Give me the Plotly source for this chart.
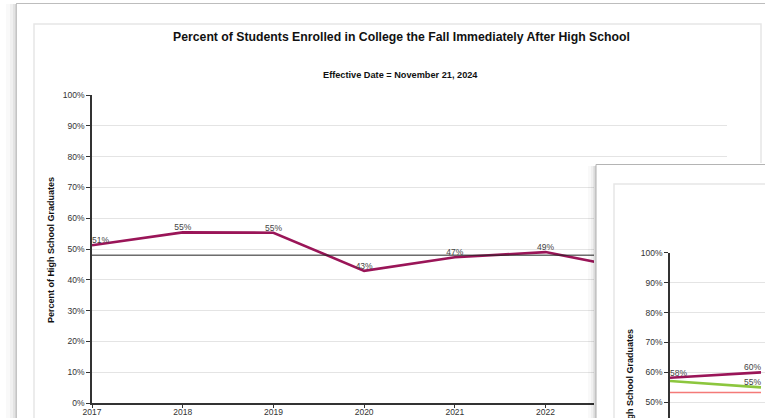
import plotly.graph_objects as go

W, H = 765, 418

# Main chart: college enrollment the fall after high school
years = [2017, 2018, 2019, 2020, 2021, 2022, 2023]
enrolled = [51.2, 55.4, 55.3, 42.9, 47.3, 49.0, 43.2]
benchmark_years = [2017, 2024]
benchmark = [48.0, 48.0]
y_ticks = list(range(0, 101, 10))
y_tick_text = [f"{v}%" for v in y_ticks]
x_ticks = list(range(2017, 2025))

# Second chart window (partly visible)
years_b = [2017, 2018]
series_maroon_b = [58.2, 60.0]
series_green_b = [57.1, 55.0]
reference_b = [53.3, 53.3]

MAROON = "#9a1558"
GREEN = "#8cc63e"
RED = "#f47a78"
FONT = "Liberation Sans, Arial, Helvetica, sans-serif"


def px(x):
    return x / W


def py(y):
    return 1 - y / H


def pct(v):
    return f"{round(v)}%"


fig = go.Figure()

# main series
fig.add_trace(go.Scatter(
    x=years, y=enrolled, mode="lines+text",
    line=dict(color=MAROON, width=2.6),
    text=[pct(v) for v in enrolled],
    textposition=["top right"] + ["top center"] * (len(years) - 1),
    textfont=dict(family=FONT, size=8.5, color="#444"),
    cliponaxis=False, showlegend=False, hoverinfo="skip",
    xaxis="x", yaxis="y",
))
fig.add_trace(go.Scatter(
    x=benchmark_years, y=benchmark, mode="lines",
    line=dict(color="#222", width=1),
    showlegend=False, hoverinfo="skip", xaxis="x", yaxis="y",
))

# empty subplot acting as the second window's white backdrop
fig.add_trace(go.Scatter(x=[600], y=[300], mode="markers", marker=dict(opacity=0),
                         showlegend=False, hoverinfo="skip", xaxis="x2", yaxis="y2"))

# second window series
fig.add_trace(go.Scatter(
    x=years_b, y=reference_b, mode="lines",
    line=dict(color=RED, width=1.5),
    showlegend=False, hoverinfo="skip", xaxis="x3", yaxis="y3", cliponaxis=False,
))
fig.add_trace(go.Scatter(
    x=years_b, y=series_green_b, mode="lines+text",
    line=dict(color=GREEN, width=2.6),
    text=["", pct(series_green_b[1])],
    textposition=["top right", "top left"],
    textfont=dict(family=FONT, size=8.5, color="#444"),
    showlegend=False, hoverinfo="skip", xaxis="x3", yaxis="y3", cliponaxis=False,
))
fig.add_trace(go.Scatter(
    x=years_b, y=series_maroon_b, mode="lines+text",
    line=dict(color=MAROON, width=2.6),
    text=[pct(v) for v in series_maroon_b],
    textposition=["top right", "top left"],
    textfont=dict(family=FONT, size=8.5, color="#444"),
    showlegend=False, hoverinfo="skip", xaxis="x3", yaxis="y3", cliponaxis=False,
))

axis_common = dict(
    showline=True, linecolor="#333", linewidth=1.5,
    ticks="outside", tickcolor="#333", tickwidth=1,
    tickfont=dict(family=FONT, size=8.5, color="#333"),
    zeroline=False, automargin=False,
)

fig.update_layout(
    width=W, height=H,
    margin=dict(l=0, r=0, t=0, b=0, autoexpand=False),
    paper_bgcolor="white", plot_bgcolor="white",
    xaxis=dict(domain=[px(92), px(727)], range=[2017, 2024],
               tickvals=x_ticks, ticktext=[str(v) for v in x_ticks],
               ticklen=3, ticklabelstandoff=-3,
               showgrid=False, anchor="y", **axis_common),
    yaxis=dict(domain=[py(403), py(95)], range=[0, 100],
               tickvals=y_ticks, ticktext=y_tick_text, ticklen=4,
               showgrid=True, gridcolor="#e4e4e4", gridwidth=1,
               anchor="x", **axis_common),
    xaxis2=dict(domain=[px(594), 1], range=[594, 765], visible=False,
                anchor="y2", fixedrange=True, automargin=False),
    yaxis2=dict(domain=[0, py(163)], range=[418, 163], visible=False,
                anchor="x2", fixedrange=True, automargin=False),
    xaxis3=dict(domain=[px(670), 1], range=[2017, 2017 + 95 / 91],
                visible=False, anchor="y3", automargin=False),
    yaxis3=dict(domain=[0, py(252.7)], range=[44.75, 100],
                tickvals=y_ticks, ticktext=y_tick_text, ticklen=4,
                showgrid=True, gridcolor="#e4e4e4", gridwidth=1,
                anchor="x3", **axis_common),
)

shapes = []
# main window: soft shadow on the left, outer frame, inner panel
for x0, op in [(6, 0.025), (10, 0.035), (13, 0.05), (15, 0.07)]:
    shapes.append(dict(type="rect", xref="paper", yref="paper",
                       x0=px(x0), x1=px(16), y0=0, y1=py(4),
                       fillcolor=f"rgba(0,0,0,{op})", line_width=0, layer="below"))
shapes.append(dict(type="line", xref="paper", yref="paper",
                   x0=px(16), x1=1, y0=py(3.5), y1=py(3.5),
                   line=dict(color="#bdbdbd", width=1.2), layer="below"))
shapes.append(dict(type="line", xref="paper", yref="paper",
                   x0=px(16.5), x1=px(16.5), y0=0, y1=py(3.5),
                   line=dict(color="#c4c4c4", width=1), layer="below"))
shapes.append(dict(type="rect", xref="paper", yref="paper",
                   x0=px(34), x1=px(761), y0=-0.05, y1=py(24),
                   line=dict(color="#e6e6e6", width=1.5), fillcolor="rgba(0,0,0,0)",
                   layer="below"))

# second window: frame and inner panel drawn inside its backdrop subplot
shapes.append(dict(type="line", xref="x2", yref="y2",
                   x0=596, x1=770, y0=164.5, y1=164.5,
                   line=dict(color="#b4b4b4", width=1.2), layer="below"))
shapes.append(dict(type="line", xref="x2", yref="y2",
                   x0=596, x1=596, y0=164.5, y1=430,
                   line=dict(color="#bcbcbc", width=1.2), layer="below"))
shapes.append(dict(type="rect", xref="x2", yref="y2",
                   x0=614, x1=790, y0=184, y1=440,
                   line=dict(color="#e6e6e6", width=1.5), fillcolor="rgba(0,0,0,0)",
                   layer="below"))
# shadow to the left of the second window
for x0, op in [(588, 0.025), (591, 0.035), (593, 0.05), (594.5, 0.07)]:
    shapes.append(dict(type="rect", xref="paper", yref="paper",
                       x0=px(x0), x1=px(595.5), y0=0, y1=py(166),
                       fillcolor=f"rgba(0,0,0,{op})", line_width=0, layer="above"))
fig.update_layout(shapes=shapes)

annotations = [
    dict(text="<b>Percent of Students Enrolled in College the Fall Immediately After High School</b>",
         x=px(401), y=py(37), xref="paper", yref="paper", showarrow=False,
         xanchor="center", yanchor="middle",
         font=dict(family=FONT, size=12.25, color="#111")),
    dict(text="<b>Effective Date = November 21, 2024</b>",
         x=px(400), y=py(75), xref="paper", yref="paper", showarrow=False,
         xanchor="center", yanchor="middle",
         font=dict(family=FONT, size=9.2, color="#111")),
    dict(text="<b>Percent of High School Graduates</b>", textangle=-90,
         x=px(51), y=py(250), xref="paper", yref="paper", showarrow=False,
         xanchor="center", yanchor="middle",
         font=dict(family=FONT, size=9, color="#111")),
    # second window labels
    dict(text="<b>Percent of High School Graduates</b>", textangle=-90,
         x=px(630), y=py(402), xref="paper", yref="paper", showarrow=False,
         xanchor="center", yanchor="middle",
         font=dict(family=FONT, size=9, color="#111")),
    dict(text="<b>Percent of Students Enrolled in College the Fall Immediately After High School</b>",
         x=px(763), y=py(195), xref="paper", yref="paper", showarrow=False,
         xanchor="left", yanchor="middle",
         font=dict(family=FONT, size=12.25, color="#111")),
]
fig.update_layout(annotations=annotations)

fig.write_html(
    "out.html",
    post_script="document.body.style.margin='0';document.body.style.overflow='hidden';",
)
